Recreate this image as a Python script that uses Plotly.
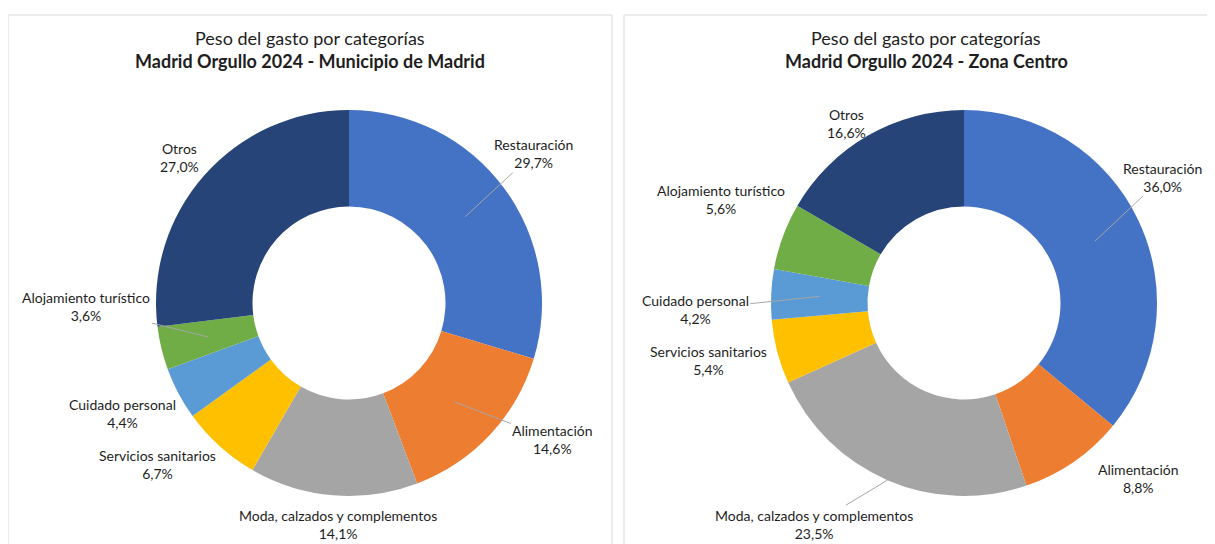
import math
import plotly.graph_objects as go

# ---------------- data ----------------
categories = ["Restauración", "Alimentación", "Moda, calzados y complementos",
              "Servicios sanitarios", "Cuidado personal", "Alojamiento turístico", "Otros"]
municipio_values = [29.7, 14.6, 14.1, 6.7, 4.4, 3.6, 27.0]
centro_values = [36.0, 8.8, 23.5, 5.4, 4.2, 5.6, 16.6]
colors = ["#4472C4", "#ED7D31", "#A5A5A5", "#FFC000", "#5B9BD5", "#70AD47", "#264478"]
title_line1 = "Peso del gasto por categorías"
titles_line2 = ["Madrid Orgullo 2024 - Municipio de Madrid", "Madrid Orgullo 2024 - Zona Centro"]

# ---------------- layout / style ----------------
PAGE_MARGIN = 8              # default body margin of the html page
W, H = 1215 - PAGE_MARGIN, 544 - PAGE_MARGIN
FONT = "Lato"
TXT = "#1e1e1e"
R = 193                      # outer radius in px
HOLE = 0.5
centers = [(349, 303), (964, 303)]          # screen px
panels = [(8, 15, 612, 600), (624, 15, 1240, 600)]
title_centers = [310, 926]

# label offsets (px) from the in-ring anchor point, leader line flag, anchor radius factor
label_style = [
    {  # Municipio
        "Restauración": (68, -63, True, 0.75),
        "Alimentación": (98, 38, True, 0.75),
        "Moda, calzados y complementos": (1, 77, False, 0.75),
        "Servicios sanitarios": (-94, 54, False, 0.75),
        "Cuidado personal": (-99, 43, False, 0.75),
        "Alojamiento turístico": (-122, -30, True, 0.75),
        "Otros": (-61, -50, False, 0.75),
    },
    {  # Centro
        "Restauración": (68, -64, True, 0.75),
        "Alimentación": (92, 57, False, 0.75),
        "Moda, calzados y complementos": (-73, 44, True, 1.0),
        "Servicios sanitarios": (-115, 21, False, 0.75),
        "Cuidado personal": (-124, 13, True, 0.75),
        "Alojamiento turístico": (-107, -53, False, 0.75),
        "Otros": (-45, -54, False, 0.75),
    },
]


def px2x(px):
    return (px - PAGE_MARGIN) / W


def py2y(py):
    return 1 - (py - PAGE_MARGIN) / H


def fmt(v):
    return f"{v:.1f}".replace(".", ",") + "%"


fig = go.Figure()
annotations = []
shapes = []

for i, vals in enumerate([municipio_values, centro_values]):
    cx, cy = centers[i]
    fig.add_trace(go.Pie(
        labels=categories, values=vals, hole=HOLE, sort=False,
        direction="clockwise", rotation=0,
        marker=dict(colors=colors, line=dict(width=0)),
        textinfo="none", hoverinfo="skip", showlegend=False,
        domain=dict(x=[px2x(cx - R), px2x(cx + R)], y=[py2y(cy + R), py2y(cy - R)]),
    ))
    total = sum(vals)
    cum = 0.0
    for cat, v in zip(categories, vals):
        mid = (cum + v / 2) / total * 2 * math.pi
        cum += v
        dx, dy, line, rf = label_style[i][cat]
        ax_px = cx + rf * R * math.sin(mid)
        ay_px = cy - rf * R * math.cos(mid)
        annotations.append(dict(
            x=px2x(ax_px), y=py2y(ay_px), xref="paper", yref="paper",
            text=f"{cat}<br>{fmt(v)}", showarrow=True, ax=dx, ay=dy,
            arrowhead=0, arrowwidth=1,
            arrowcolor="#A6A6A6" if line else "rgba(0,0,0,0)",
            font=dict(family=FONT, size=14, color=TXT), align="center",
        ))
    # titles
    x0, y0, x1, y1 = panels[i]
    tx = px2x(title_centers[i])
    annotations.append(dict(x=tx, y=py2y(38), xref="paper", yref="paper",
                            xanchor="center", yanchor="middle",
                            text=title_line1, showarrow=False,
                            font=dict(family=FONT, size=18, color=TXT)))
    annotations.append(dict(x=tx, y=py2y(61), xref="paper", yref="paper",
                            xanchor="center", yanchor="middle",
                            text=f"<b>{titles_line2[i]}</b>", showarrow=False,
                            font=dict(family=FONT, size=18, color=TXT)))
    shapes.append(dict(type="rect", xref="paper", yref="paper",
                       x0=px2x(x0), x1=px2x(x1), y0=py2y(y1), y1=py2y(y0),
                       line=dict(color="#D9D9D9", width=1), fillcolor="rgba(0,0,0,0)"))

fig.update_layout(
    width=W, height=H, margin=dict(l=0, r=0, t=0, b=0),
    paper_bgcolor="white", plot_bgcolor="white",
    annotations=annotations, shapes=shapes,
)
fig.write_html("out.html")
